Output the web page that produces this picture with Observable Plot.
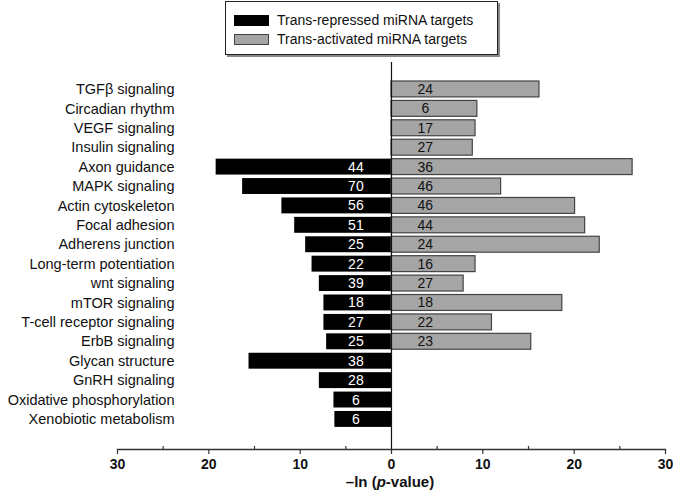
<!DOCTYPE html>
<html>
<head>
<meta charset="utf-8">
<script src="https://cdn.jsdelivr.net/npm/d3@7"></script>
<script src="https://cdn.jsdelivr.net/npm/@observablehq/plot@0.6"></script>
<style>
  body { margin: 0; background: #fff; font-family: "Liberation Sans", Arial, sans-serif; }
  #wrap { width: 673px; height: 497px; position: relative; overflow: hidden; }
  #legend { position: relative; height: 57px; }
  #legend .box { position: absolute; left: 225px; top: 1px; width: 271px; height: 52px;
    border: 1px solid #222; box-shadow: 2px 2px 0 #888; background: #fff; }
  #legend .row { position: absolute; left: 8px; height: 14px; display: flex; align-items: center; font-size: 14px; color: #111; }
  #legend .sw { width: 35px; height: 11px; margin-right: 8px; box-sizing: border-box; }
  #chart { height: 415px; line-height: 0; }
  #chart svg { display: block; }
  #xlabel { position: relative; height: 25px; }
  #xlabel span { position: absolute; left: 390px; top: 1px; transform: translateX(-50%); font-size: 15px; font-weight: bold; color: #111; white-space: nowrap; line-height: 18px; }
</style>
</head>
<body>
<div id="wrap">
  <div id="legend"></div>
  <div id="chart"></div>
  <div id="xlabel"><span>–ln (<i>p</i>-value)</span></div>
</div>
<script>
const categories = [
  "TGFβ signaling", "Circadian rhythm", "VEGF signaling", "Insulin signaling",
  "Axon guidance", "MAPK signaling", "Actin cytoskeleton", "Focal adhesion",
  "Adherens junction", "Long-term potentiation", "wnt signaling", "mTOR signaling",
  "T-cell receptor signaling", "ErbB signaling", "Glycan structure", "GnRH signaling",
  "Oxidative phosphorylation", "Xenobiotic metabolism"
];
const repressed = [null, null, null, null, 19.2, 16.3, 12.0, 10.6, 9.4, 8.7, 7.9, 7.4, 7.4, 7.1, 15.6, 7.9, 6.3, 6.2];
const repressedCounts = [null, null, null, null, 44, 70, 56, 51, 25, 22, 39, 18, 27, 25, 38, 28, 6, 6];
const activated = [16.2, 9.4, 9.2, 8.9, 26.4, 12.0, 20.1, 21.2, 22.8, 9.2, 7.9, 18.7, 11.0, 15.3, null, null, null, null];
const activatedCounts = [24, 6, 17, 27, 36, 46, 46, 44, 24, 16, 27, 18, 22, 23, null, null, null, null];
const seriesNames = ["Trans-repressed miRNA targets", "Trans-activated miRNA targets"];
const majorTicks = [-30, -20, -10, 0, 10, 20, 30];
const minorTicks = [-25, -15, -5, 5, 15, 25];

const rep = categories.map((c, i) => ({cat: c, v: repressed[i], n: repressedCounts[i]})).filter(d => d.v != null);
const act = categories.map((c, i) => ({cat: c, v: activated[i], n: activatedCounts[i]})).filter(d => d.v != null);

const grayFill = "#a5a5a5";
const grayStroke = "#444";

// legend
const leg = document.querySelector("#legend");
const box = document.createElement("div");
box.className = "box";
seriesNames.forEach((name, i) => {
  const row = document.createElement("div");
  row.className = "row";
  row.style.top = (i === 0 ? 11 : 30) + "px";
  const sw = document.createElement("div");
  sw.className = "sw";
  if (i === 0) { sw.style.background = "#000"; }
  else { sw.style.background = grayFill; sw.style.border = "1px solid " + grayStroke; }
  row.appendChild(sw);
  const t = document.createElement("span");
  t.textContent = name;
  row.appendChild(t);
  box.appendChild(row);
});
leg.appendChild(box);

const H = 415;
const frameH = H - 5 - 23;
const chart = Plot.plot({
  width: 673,
  height: H,
  marginLeft: 117,
  marginRight: 8,
  marginTop: 5,
  marginBottom: 23,
  style: {fontFamily: "Liberation Sans, Arial, sans-serif", fontSize: "14px", color: "#111", overflow: "visible"},
  x: {domain: [-30, 30]},
  y: {domain: categories, range: [20.5, 373.4], padding: 0.18, round: false, axis: null},
  marks: [
    Plot.barX(rep, {y: "cat", x1: 0, x2: d => -d.v, fill: "#000"}),
    Plot.barX(act, {y: "cat", x1: 0, x2: "v", fill: grayFill, stroke: grayStroke, strokeWidth: 1.2}),
    Plot.text(rep, {y: "cat", x: -3.9, text: d => String(d.n), fill: "#fff", fontSize: 14}),
    Plot.text(act, {y: "cat", x: 3.7, text: d => String(d.n), fill: "#111", fontSize: 14}),
    Plot.text(categories, {y: d => d, text: d => d, frameAnchor: "left", dx: 57, textAnchor: "end", fontSize: 14.5, fill: "#111"}),
    Plot.ruleX([0], {stroke: "#111", strokeWidth: 1.2}),
    Plot.frame({anchor: "bottom", stroke: "#333", strokeWidth: 1.3}),
    Plot.tickX(minorTicks, {x: d => d, insetTop: frameH - 3, stroke: "#333", strokeWidth: 1.2}),
    Plot.axisX({ticks: majorTicks, tickSize: 5, tickPadding: 5, tickFormat: d => Math.abs(d), fontWeight: "bold", fontSize: 14, stroke: "#333", strokeWidth: 1.2, label: null})
  ]
});
document.querySelector("#chart").appendChild(chart);
</script>
</body>
</html>
